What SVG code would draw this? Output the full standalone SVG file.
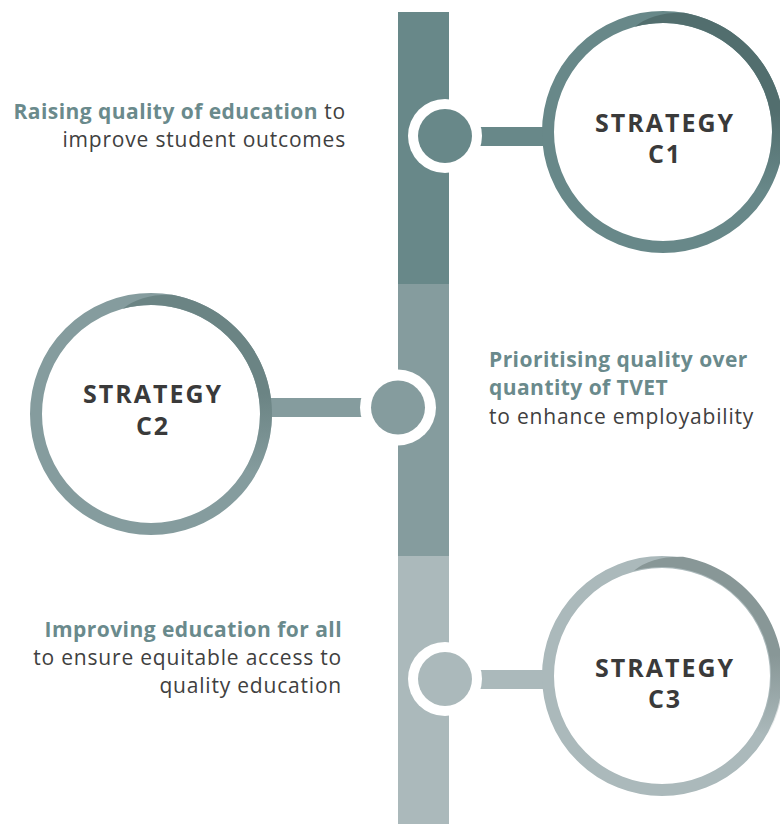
<svg xmlns="http://www.w3.org/2000/svg" width="780" height="824" viewBox="0 0 780 824">
<style>
.lbl{font-family:"Open Sans","Liberation Sans",sans-serif;font-size:21px;fill:#404040;letter-spacing:0.8px}
.b{font-weight:bold;fill:#6a8a8c;letter-spacing:0.45px}
.st{font-family:"Open Sans","Liberation Sans",sans-serif;font-size:25px;font-weight:bold;fill:#3a3a3a;letter-spacing:2px;text-anchor:middle}
.ring{fill:#fff;stroke-width:12}
</style>
<defs>
<linearGradient id="g1" x1="0" y1="0" x2="0" y2="1"><stop offset="0" stop-color="#526e6e"/><stop offset="0.55" stop-color="#526e6e"/><stop offset="1" stop-color="#526e6e" stop-opacity="0"/></linearGradient>
<linearGradient id="g2" x1="0" y1="0" x2="0" y2="1"><stop offset="0" stop-color="#6b8484"/><stop offset="0.55" stop-color="#6b8484"/><stop offset="1" stop-color="#6b8484" stop-opacity="0"/></linearGradient>
<linearGradient id="g3" x1="0" y1="0" x2="0" y2="1"><stop offset="0" stop-color="#889797"/><stop offset="0.55" stop-color="#889797"/><stop offset="1" stop-color="#889797" stop-opacity="0"/></linearGradient>
<path id="crescent" d="M21,-119.2 A121,121 0 0 1 104.8,60.5 L94.4,54.5 A109,109 0 0 0 -28.2,-105.3 Q-10,-120 21,-119.2 Z"/>
</defs>

<g id="timeline">
<rect x="398" y="12" width="51" height="272" fill="#688889"/>
<rect x="398" y="284" width="51" height="272" fill="#859c9e"/>
<rect x="398" y="556" width="51" height="268" fill="#abb9bb"/>
</g>

<g id="connectors">
<rect x="445" y="127" width="110" height="19" fill="#688889"/>
<circle cx="445" cy="136" r="37" fill="#fff"/>
<circle cx="445" cy="136" r="27" fill="#688889"/>
<rect x="262" y="398" width="136" height="19" fill="#859c9e"/>
<circle cx="398" cy="407.5" r="38" fill="#fff"/>
<circle cx="398" cy="407.5" r="27" fill="#859c9e"/>
<rect x="445" y="670" width="110" height="19" fill="#abb9bb"/>
<circle cx="445" cy="679" r="37" fill="#fff"/>
<circle cx="445" cy="679" r="27" fill="#abb9bb"/>
</g>

<g id="strategy-c1">
<circle class="ring" cx="663" cy="132" r="115" stroke="#688889"/>
<use href="#crescent" transform="translate(663,132)" fill="url(#g1)"/>
<text class="st" x="665" y="132">STRATEGY</text>
<text class="st" x="665" y="163">C1</text>
</g>

<g id="strategy-c2">
<circle class="ring" cx="151" cy="414" r="115" stroke="#859c9e"/>
<use href="#crescent" transform="translate(151,414)" fill="url(#g2)"/>
<text class="st" x="153" y="403">STRATEGY</text>
<text class="st" x="153" y="435">C2</text>
</g>

<g id="strategy-c3">
<circle class="ring" cx="662" cy="676" r="114" stroke="#abb9bb"/>
<use href="#crescent" transform="translate(662,676)" fill="url(#g3)"/>
<text class="st" x="665" y="677">STRATEGY</text>
<text class="st" x="665" y="708">C3</text>
</g>

<g id="label-c1">
<text class="lbl" x="346" y="119" text-anchor="end"><tspan class="b">Raising quality of education</tspan> to</text>
<text class="lbl" x="346" y="147" text-anchor="end">improve student outcomes</text>
</g>

<g id="label-c2">
<text class="lbl b" x="489" y="367">Prioritising quality over</text>
<text class="lbl b" x="489" y="395">quantity of TVET</text>
<text class="lbl" x="489" y="424">to enhance employability</text>
</g>

<g id="label-c3">
<text class="lbl b" x="342" y="637" text-anchor="end">Improving education for all</text>
<text class="lbl" x="342" y="665" text-anchor="end">to ensure equitable access to</text>
<text class="lbl" x="342" y="693" text-anchor="end">quality education</text>
</g>
</svg>
